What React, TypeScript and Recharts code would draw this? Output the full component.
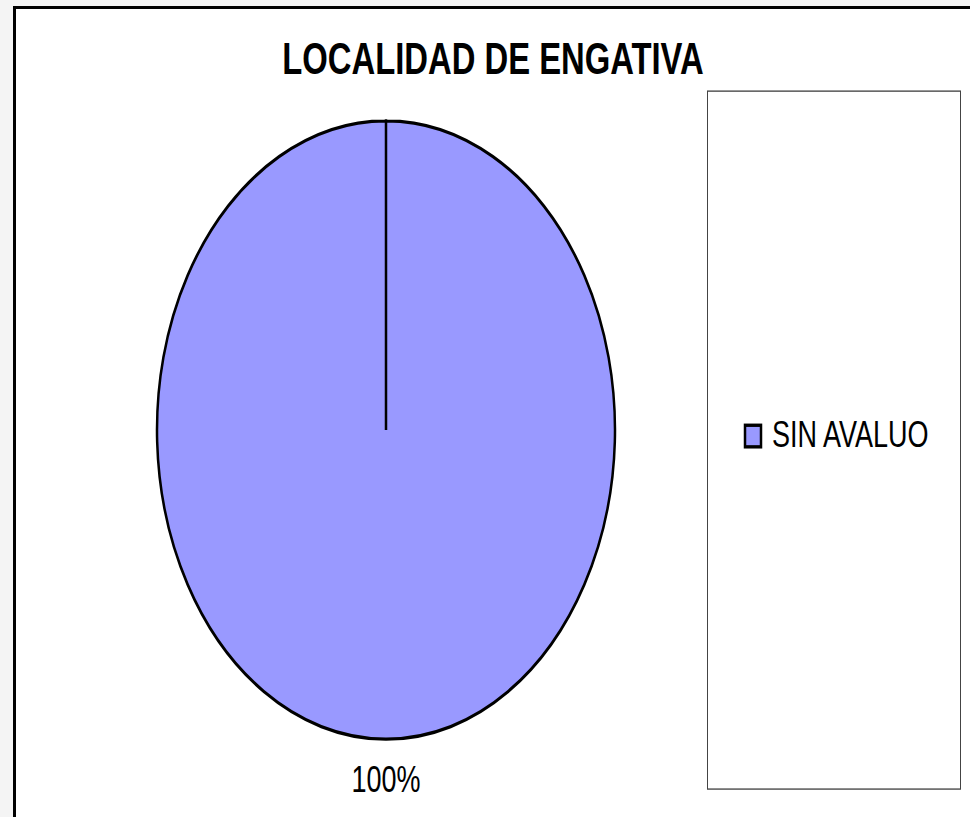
import React from 'react';
import { PieChart, Pie, Cell, Legend } from 'recharts';

// values
const categories = ['SIN AVALUO'];
const values = [100];
const sliceColors = ['#9999FF'];

const data = categories.map((name, i) => ({ name, value: values[i] }));

// the reference picture is stretched vertically
const STRETCH = 1.35;
const FONT = "'Liberation Sans', Arial, sans-serif";

const RADIAN = Math.PI / 180;

const renderLabel = (props: any) => {
  const { cx, cy, midAngle, outerRadius, percent } = props;
  const r = outerRadius + 30;
  const x = cx + r * Math.cos(-midAngle * RADIAN);
  const y = cy + r * Math.sin(-midAngle * RADIAN);
  return (
    <text x={x} y={y} textAnchor="middle" dominantBaseline="central" fontSize={27} fontFamily={FONT} fill="#000">
      {`${Math.round(percent * 100)}%`}
    </text>
  );
};

const LegendBox = (props: any) => {
  const { payload } = props;
  return (
    <div style={{ width: 254, height: 518, border: '1px solid #444', boxSizing: 'border-box', background: '#fff' }}>
      <svg width={252} height={516}>
        {(payload || []).map((entry: any, i: number) => (
          <g key={i}>
            <rect x={37} y={247 + i * 30} width={16} height={16} fill={entry.color} stroke="#000" strokeWidth={2.5} />
            <text x={64} y={263 + i * 30} fontSize={27} fontFamily={FONT} fill="#000">
              {entry.value}
            </text>
          </g>
        ))}
      </svg>
    </div>
  );
};

export default function App() {
  return (
    <div style={{ position: 'absolute', left: 0, top: 0, width: 970, height: 817, overflow: 'hidden', background: '#f4f4f4' }}>
      <div
        style={{
          position: 'absolute',
          left: 13,
          top: 6,
          width: 980,
          height: 840,
          border: '3px solid #000',
          background: '#fff',
        }}
      />
      <div
        style={{
          position: 'absolute',
          left: 0,
          top: 0,
          width: 970,
          height: 606,
          transform: `scaleY(${STRETCH})`,
          transformOrigin: '0 0',
        }}
      >
        <div
          style={{
            position: 'absolute',
            left: 0,
            top: 28,
            width: 986,
            textAlign: 'center',
            fontFamily: FONT,
            fontWeight: 'bold',
            fontSize: 32.8,
            lineHeight: 1,
            color: '#000',
          }}
        >
          LOCALIDAD DE ENGATIVA
        </div>
        <PieChart width={970} height={606} margin={{ top: 0, right: 0, bottom: 0, left: 0 }}>
          <Pie
            data={data}
            dataKey="value"
            nameKey="name"
            cx={386}
            cy={318.5}
            outerRadius={229}
            startAngle={90}
            endAngle={-270}
            stroke="#000"
            strokeWidth={2.5}
            label={renderLabel}
            labelLine={false}
            isAnimationActive={false}
          >
            {data.map((d, i) => (
              <Cell key={d.name} fill={sliceColors[i]} />
            ))}
          </Pie>
          <Legend
            layout="vertical"
            align="right"
            verticalAlign="top"
            content={<LegendBox />}
            wrapperStyle={{ left: 707, top: 67, width: 254, height: 518 }}
          />
        </PieChart>
      </div>
    </div>
  );
}
